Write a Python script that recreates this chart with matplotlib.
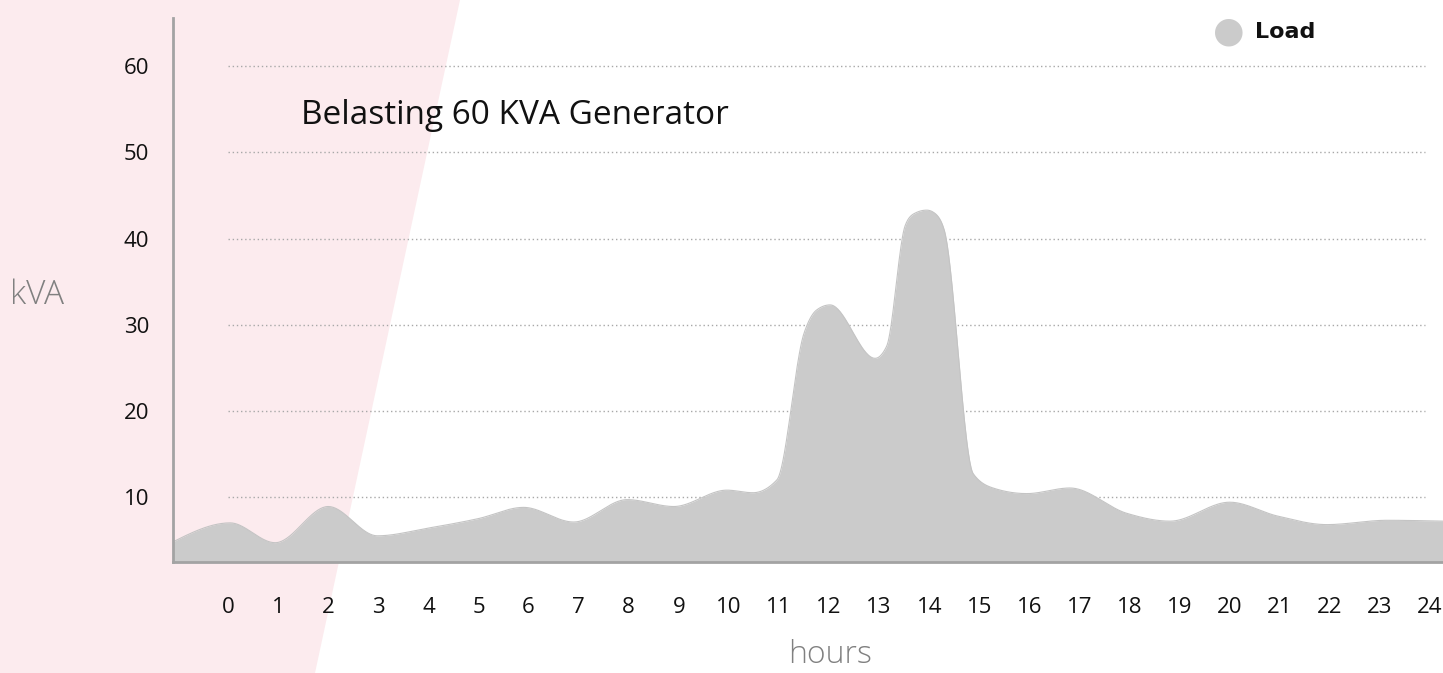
"""Belasting 60 KVA generator over de dag."""
import matplotlib
matplotlib.use("Agg")
import matplotlib.pyplot as plt
from matplotlib.patches import Polygon
import numpy as np

# (hour, kVA)
hours = [-1.1, 0.04, 0.94, 2.0, 2.98, 4.0, 5.0, 5.9, 6.9, 7.97, 8.9, 9.96,
         10.48, 10.96, 11.5, 11.75, 12.02, 12.92, 13.15, 13.52, 13.7, 13.95,
         14.12, 14.3, 14.88, 15.3, 15.95, 16.81, 17.95, 18.81, 20.0, 20.95,
         21.94, 23.14, 24.27]
load_kva = [4.8, 7.0, 4.7, 8.9, 5.5, 6.4, 7.5, 8.8, 7.1, 9.7, 8.9, 10.8,
            10.5, 12.0, 29.0, 31.7, 32.3, 26.1, 27.5, 41.5, 42.9, 43.3,
            42.9, 41.0, 12.7, 11.0, 10.4, 11.05, 8.1, 7.2, 9.4, 7.8,
            6.8, 7.3, 7.2]
x_ticks = list(range(0, 25))
y_ticks = [10, 20, 30, 40, 50, 60]

FILL = "#cbcbcb"
PINK = "#fcebee"


def monotone_curve(x, y, n=40):
    """Monotone cubic (Fritsch-Carlson / d3 curveMonotoneX)."""
    x = np.asarray(x, float)
    y = np.asarray(y, float)
    h = np.diff(x)
    s = np.diff(y) / h
    m = np.zeros_like(y)
    for i in range(1, len(x) - 1):
        p = (s[i - 1] * h[i] + s[i] * h[i - 1]) / (h[i - 1] + h[i])
        m[i] = (np.sign(s[i - 1]) + np.sign(s[i])) * min(abs(s[i - 1]), abs(s[i]), 0.5 * abs(p))
    m[0] = (3 * s[0] - m[1]) / 2
    m[-1] = (3 * s[-1] - m[-2]) / 2
    xs, ys = [], []
    for i in range(len(h)):
        t = np.linspace(0, 1, n, endpoint=False)
        h00 = 2 * t**3 - 3 * t**2 + 1
        h10 = t**3 - 2 * t**2 + t
        h01 = -2 * t**3 + 3 * t**2
        h11 = t**3 - t**2
        xs.append(x[i] + t * h[i])
        ys.append(h00 * y[i] + h10 * h[i] * m[i] + h01 * y[i + 1] + h11 * h[i] * m[i + 1])
    xs.append([x[-1]])
    ys.append([y[-1]])
    return np.concatenate(xs), np.concatenate(ys)


fig = plt.figure(figsize=(14.43, 6.73), dpi=100)

# pink slanted band at the left
band = Polygon([(0, 1), (460 / 1443, 1), (315 / 1443, 0), (0, 0)],
               closed=True, transform=fig.transFigure, facecolor=PINK,
               edgecolor="none", zorder=-5)
fig.patches.append(band)

ax = fig.add_axes([173 / 1443, 111 / 673, 1 - 173 / 1443, 544 / 673])
ax.set_facecolor("none")
ax.set_zorder(1)

xs, ys = monotone_curve(hours, load_kva)
ax.fill_between(xs, 0, ys, color=FILL, linewidth=0, zorder=2)
ax.plot(xs, ys, color="#c4c4c4", linewidth=0.8, zorder=2)

ax.hlines(y_ticks, 0, 23.9, colors="#a8a8a8", linestyles=(0, (1, 2)),
          linewidth=1, zorder=1)

ax.set_xlim(-1.1, 24.26)
ax.set_ylim(2.46, 65.6)
ax.set_xticks(x_ticks)
ax.set_yticks(y_ticks)
ax.tick_params(length=0, labelsize=16, colors="#111111")
ax.tick_params(axis="x", pad=25)
ax.tick_params(axis="y", pad=17)
for lab in ax.get_xticklabels() + ax.get_yticklabels():
    lab.set_family(["Open Sans", "DejaVu Sans"])

for side in ["top", "right"]:
    ax.spines[side].set_visible(False)
for side in ["left", "bottom"]:
    ax.spines[side].set_color("#a3a3a3")
    ax.spines[side].set_linewidth(2)

fig.text(301 / 1443, 1 - 115 / 673, "Belasting 60 KVA Generator",
         fontsize=24, family=["Open Sans", "DejaVu Sans"], color="#111111",
         va="center", ha="left")
fig.text(10 / 1443, 1 - 295 / 673, "kVA", fontsize=24,
         family=["Open Sans", "DejaVu Sans"], fontweight="light", color="#808080",
         va="center", ha="left")
fig.text(830 / 1443, 1 - 655 / 673, "hours", fontsize=23,
         family=["Open Sans", "DejaVu Sans"], fontweight="light", color="#808080",
         va="center", ha="center")

# legend
fig.text(1229 / 1443, 1 - 31 / 673, "\u25cf", fontsize=26, color=FILL,
         va="center", ha="center", family=["DejaVu Sans"])
fig.text(1255 / 1443, 1 - 32 / 673, "Load", fontsize=16, fontweight="bold",
         family=["DejaVu Sans"], color="#111111", va="center", ha="left")

fig.savefig("out.png", dpi=100)
